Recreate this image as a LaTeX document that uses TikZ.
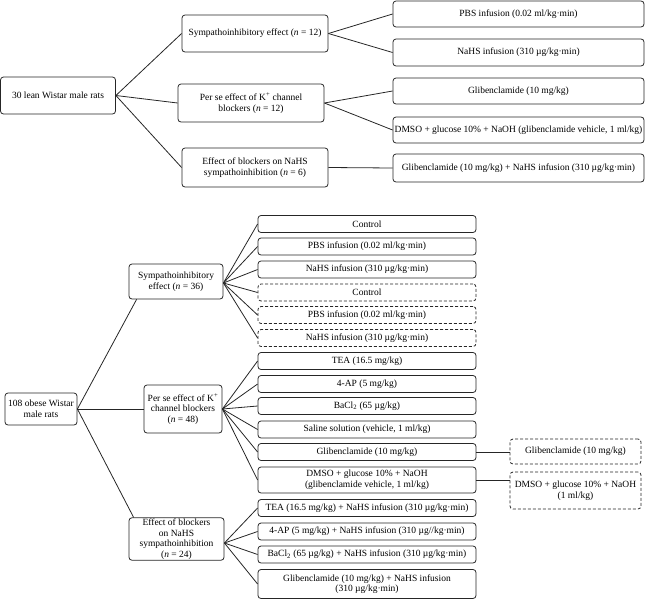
\documentclass[tikz,border=0pt]{standalone}
\usepackage{fontspec}
\setmainfont{Liberation Serif}
\newcommand\myfs{\fontsize{9.5}{10.6}\selectfont}
\begin{document}
\begin{tikzpicture}[x=1pt,y=-1pt,
  box/.style={draw=black!85, rounded corners=3pt, line width=0.8pt, inner sep=1pt, align=center, font=\myfs},
  dbox/.style={box, dash pattern=on 3pt off 2pt},
  link/.style={draw=black!85, line width=0.8pt}]
\useasboundingbox (0,0) rectangle (646,600);
% ---------- top: lean rats ----------
\node[box, minimum width=115pt, minimum height=37pt] (r1) at (58,95.5) {30 lean Wistar male rats};
\node[box, minimum width=146pt, minimum height=37pt] (m1) at (255,33.5) {Sympathoinhibitory effect (\textit{n} = 12)};
\node[box, minimum width=146pt, minimum height=38pt] (m2) at (251,103) {Per se effect of K\textsuperscript{+} channel\\blockers (\textit{n} = 12)};
\node[box, minimum width=146pt, minimum height=39pt] (m3) at (255,167.5) {Effect of blockers on NaHS\\sympathoinhibition (\textit{n} = 6)};
\node[box, minimum width=251pt, minimum height=26pt] (t1) at (518.5,14) {PBS infusion (0.02 ml/kg·min)};
\node[box, minimum width=251pt, minimum height=27pt] (t2) at (518.5,52.5) {NaHS infusion (310 µg/kg·min)};
\node[box, minimum width=251pt, minimum height=26pt] (t3) at (518.5,91) {Glibenclamide (10 mg/kg)};
\node[box, minimum width=251pt, minimum height=26pt] (t4) at (518.5,130) {DMSO + glucose 10\% + NaOH (glibenclamide vehicle, 1 ml/kg)};
\node[box, minimum width=251pt, minimum height=28pt] (t5) at (518.5,168) {Glibenclamide (10 mg/kg) + NaHS infusion (310 µg/kg·min)};
\draw[link] (r1.east) -- (m1.west);
\draw[link] (r1.east) -- (m2.west);
\draw[link] (r1.east) -- (m3.west);
\draw[link] (m1.east) -- (t1.west);
\draw[link] (m1.east) -- (t2.west);
\draw[link] (m2.east) -- (t3.west);
\draw[link] (m2.east) -- (t4.west);
\draw[link] (m3.east) -- (t5.west);
% ---------- bottom: obese rats ----------
\node[box, minimum width=72pt, minimum height=32pt] (r2) at (41,409) {108 obese Wistar\\male rats};
\node[box, minimum width=94pt, minimum height=35pt] (b1) at (176,281.5) {Sympathoinhibitory\\effect (\textit{n} = 36)};
\node[box, minimum width=78pt, minimum height=48pt] (b2) at (183,409) {Per se effect of K\textsuperscript{+}\\channel blockers\\(\textit{n} = 48)};
\node[box, minimum width=95pt, minimum height=41pt] (b3) at (176.5,539) {Effect of blockers\\on NaHS\\sympathoinhibition\\(\textit{n} = 24)};
\node[box, minimum width=218pt, minimum height=17pt] (l1) at (367,224) {Control};
\node[box, minimum width=218pt, minimum height=17pt] (l2) at (367,246.5) {PBS infusion (0.02 ml/kg·min)};
\node[box, minimum width=218pt, minimum height=17pt] (l3) at (367,269.5) {NaHS infusion (310 µg/kg·min)};
\node[dbox, minimum width=218pt, minimum height=17pt] (l4) at (367,292.5) {Control};
\node[dbox, minimum width=218pt, minimum height=17pt] (l5) at (367,315) {PBS infusion (0.02 ml/kg·min)};
\node[dbox, minimum width=218pt, minimum height=17pt] (l6) at (367,338) {NaHS infusion (310 µg/kg·min)};
\node[box, minimum width=218pt, minimum height=17pt] (l7) at (367,361) {TEA (16.5 mg/kg)};
\node[box, minimum width=218pt, minimum height=17pt] (l8) at (367,384) {4-AP (5 mg/kg)};
\node[box, minimum width=218pt, minimum height=17pt] (l9) at (367,406) {BaCl\textsubscript{2} (65 µg/kg)};
\node[box, minimum width=218pt, minimum height=17pt] (l10) at (367,429.5) {Saline solution (vehicle, 1 ml/kg)};
\node[box, minimum width=218pt, minimum height=17pt] (l11) at (367,452) {Glibenclamide (10 mg/kg)};
\node[box, minimum width=218pt, minimum height=26pt] (l12) at (367,480) {DMSO + glucose 10\% + NaOH\\(glibenclamide vehicle, 1 ml/kg)};
\node[box, minimum width=218pt, minimum height=17pt] (l13) at (367,508) {TEA (16.5 mg/kg) + NaHS infusion (310 µg/kg·min)};
\node[box, minimum width=218pt, minimum height=17pt] (l14) at (367,531.5) {4-AP (5 mg/kg) + NaHS infusion (310 µg//kg·min)};
\node[box, minimum width=218pt, minimum height=17pt] (l15) at (367,554.5) {BaCl\textsubscript{2} (65 µg/kg) + NaHS infusion (310 µg/kg·min)};
\node[box, minimum width=218pt, minimum height=29pt] (l16) at (367,584) {Glibenclamide (10 mg/kg) + NaHS infusion\\(310 µg/kg·min)};
\node[dbox, minimum width=131pt, minimum height=25pt] (d1) at (575.5,451.5) {Glibenclamide (10 mg/kg)};
\node[dbox, minimum width=131pt, minimum height=37pt] (d2) at (575.5,490.5) {DMSO + glucose 10\% + NaOH\\(1 ml/kg)};
\draw[link] (r2.east) -- ([xshift=8pt]b1.south west);
\draw[link] (r2.east) -- (b2.west);
\draw[link] (r2.east) -- ([xshift=5pt]b3.north west);
\foreach \i in {1,...,6} \draw[link] ([yshift=-1.5pt]b1.east) -- (l\i.west);
\foreach \i in {7,...,12} \draw[link] (b2.east) -- (l\i.west);
\foreach \i in {13,...,16} \draw[link] ([yshift=-4pt]b3.east) -- (l\i.west);
\draw[link] (l11.east) -- (l11.east -| d1.west);
\draw[link] (l12.east) -- (l12.east -| d2.west);
\end{tikzpicture}
\end{document}
